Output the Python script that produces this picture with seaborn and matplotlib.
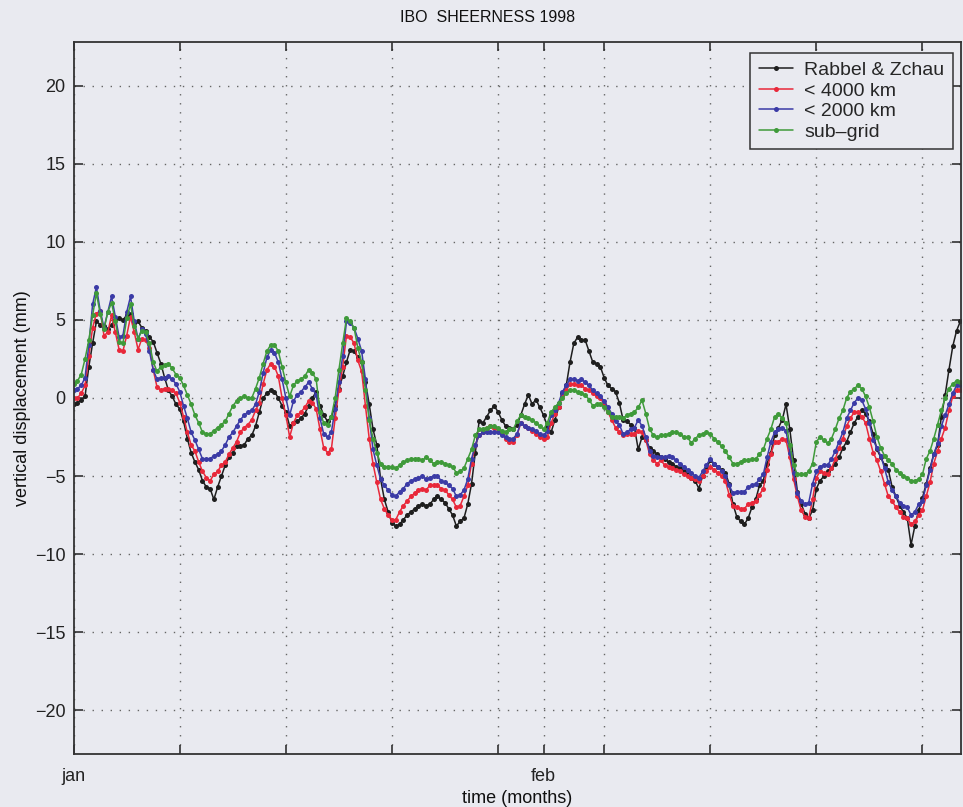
import numpy as np
import pandas as pd
import matplotlib
matplotlib.use("Agg")
import matplotlib.pyplot as plt
import seaborn as sns

# Vertical displacement (mm) at Sheerness, 6-hourly samples from 1 Jan 1998.
# One row per day: 00h, 06h, 12h, 18h.
rabbel_zchau = [
    -0.4, -0.3, -0.15, 0.1,   2.0, 3.5, 4.9, 4.7,   4.6, 4.4, 4.7, 5.0,
    5.1, 5.0, 5.3, 5.4,       4.8, 4.9, 4.5, 4.3,   3.9, 3.6, 2.9, 2.2,
    1.3, 0.5, 0.1, -0.4,      -0.7, -1.5, -2.6, -3.5,  -4.1, -4.6, -5.3, -5.7,
    -5.8, -6.5, -5.7, -5.0,   -4.3, -3.8, -3.5, -3.1,  -3.1, -3.0, -2.6, -2.4,
    -1.8, -0.9, 0.0, 0.3,     0.5, 0.4, 0.0, -0.5,  -0.9, -1.8, -1.6, -1.5,
    -1.3, -1.0, -0.5, 0.0,    0.4, -0.5, -1.1, -1.5,  -1.2, -0.5, 0.6, 1.4,
    2.3, 3.1, 3.0, 2.6,       2.3, 1.0, -0.4, -2.0,  -3.0, -5.2, -6.5, -7.3,
    -8.0, -8.2, -8.1, -7.8,   -7.5, -7.3, -7.1, -6.9,  -6.8, -6.9, -6.8, -6.5,
    -6.3, -6.5, -6.7, -7.1,   -7.5, -8.2, -7.9, -7.7,  -6.8, -5.5, -3.5, -1.5,
    -1.6, -1.2, -0.8, -0.5,   -0.9, -1.4, -1.8, -1.9,  -2.0, -1.7, -1.1, -0.4,
    0.2, -0.4, -0.1, -0.6,    -1.1, -1.8, -2.2, -1.4,  -0.6, 0.3, 0.8, 2.3,
    3.5, 3.9, 3.7, 3.7,       3.0, 2.3, 2.2, 2.0,   1.3, 0.8, 0.6, 0.4,
    -0.3, -1.4, -1.5, -1.7,   -1.9, -3.3, -2.5, -2.7,  -3.2, -3.4, -3.6, -3.8,
    -3.9, -4.1, -4.2, -4.4,   -4.5, -4.7, -4.9, -5.1,  -5.3, -5.8, -5.0, -4.5,
    -4.0, -4.2, -4.4, -4.6,   -4.8, -5.5, -6.8, -7.6,  -7.9, -8.1, -7.7, -7.0,
    -6.5, -5.6, -5.3, -4.2,   -3.5, -2.4, -1.9, -1.4,  -0.4, -2.0, -4.0, -6.0,
    -6.8, -7.4, -7.7, -7.2,   -5.8, -5.3, -5.0, -4.7,  -4.5, -4.2, -3.8, -3.2,
    -2.8, -2.2, -1.6, -1.2,   -0.8, -1.0, -1.5, -2.3,  -3.3, -3.8, -4.3, -4.6,
    -5.7, -6.3, -6.9, -7.3,   -7.7, -9.4, -8.2, -7.2,  -6.4, -5.5, -4.5, -3.6,
    -3.0, -1.2, 0.2, 1.8,     3.3, 4.3, 4.9, 5.1,
]

lt_4000km = [
    0.0, 0.0, 0.3, 0.8,       2.7, 4.5, 5.4, 5.6,   4.0, 4.2, 5.3, 4.2,
    3.1, 3.0, 4.0, 5.2,       4.2, 3.1, 3.8, 3.7,   3.2, 1.8, 0.7, 0.5,
    0.6, 0.6, 0.5, 0.3,       -0.3, -1.2, -2.2, -3.0,  -3.4, -4.1, -4.7, -5.1,
    -5.3, -4.9, -4.7, -4.3,   -4.1, -3.6, -3.2, -2.8,  -2.2, -1.9, -1.7, -1.4,
    -0.8, -0.3, 0.9, 1.8,     2.2, 2.0, 1.4, 0.0,   -1.1, -2.5, -1.6, -1.1,
    -0.9, -0.6, -0.2, -0.3,   -0.7, -2.0, -3.2, -3.5,  -3.3, -1.3, 0.5, 2.0,
    4.0, 3.9, 3.5, 2.4,       1.7, -0.5, -2.6, -4.2,  -5.4, -6.5, -7.1, -7.5,
    -7.8, -7.8, -7.3, -6.9,   -6.6, -6.3, -6.1, -5.9,  -5.8, -5.9, -5.6, -5.6,
    -5.6, -5.8, -5.9, -6.2,   -6.5, -7.0, -6.9, -6.3,  -5.6, -4.2, -3.0, -2.4,
    -2.2, -1.9, -1.8, -1.9,   -2.0, -2.3, -2.6, -2.8,  -2.8, -2.4, -1.6, -1.8,
    -1.9, -2.1, -2.3, -2.5,   -2.6, -2.5, -1.6, -1.0,  -0.6, 0.1, 0.5, 0.9,
    0.9, 0.8, 0.8, 0.6,       0.5, 0.3, 0.1, 0.0,   -0.4, -0.9, -1.4, -1.9,
    -2.2, -2.4, -2.3, -2.3,   -2.3, -2.1, -2.2, -2.7,  -3.6, -4.0, -4.2, -4.0,
    -4.3, -4.4, -4.5, -4.6,   -4.7, -4.9, -5.0, -5.1,  -5.2, -5.3, -5.0, -4.7,
    -4.4, -4.6, -4.8, -5.0,   -5.3, -6.2, -6.9, -7.0,  -7.1, -7.1, -6.8, -6.7,
    -6.6, -6.2, -5.8, -4.6,   -3.6, -2.8, -2.8, -2.6,  -2.7, -3.8, -5.2, -6.3,
    -7.2, -7.6, -7.7, -6.5,   -5.1, -4.7, -4.8, -4.9,  -4.5, -3.9, -3.2, -2.6,
    -1.8, -1.3, -0.9, -0.9,   -1.2, -1.6, -2.6, -3.5,  -4.0, -4.7, -5.5, -6.3,
    -6.6, -7.0, -7.3, -7.6,   -7.7, -8.1, -7.9, -7.5,  -7.2, -6.3, -5.4, -4.2,
    -3.4, -2.6, -1.9, -0.8,   0.1, 0.5, 0.5, 0.3,
]

lt_2000km = [
    0.5, 0.6, 0.8, 1.3,       3.4, 6.0, 7.1, 5.6,   4.5, 5.5, 6.5, 5.2,
    3.9, 4.0, 5.5, 6.5,       4.9, 3.8, 4.4, 4.1,   3.0, 1.8, 1.2, 1.3,
    1.3, 1.4, 1.2, 0.9,       0.4, -0.5, -1.3, -2.2,  -2.7, -3.3, -3.9, -3.9,
    -3.9, -3.7, -3.6, -3.4,   -3.0, -2.5, -2.2, -1.8,  -1.4, -1.1, -0.9, -0.8,
    -0.4, 0.4, 1.6, 2.6,      3.1, 2.9, 2.3, 1.2,   0.0, -1.1, -0.2, 0.2,
    0.4, 0.7, 1.0, 0.6,       0.2, -1.3, -2.3, -2.5,  -2.2, -0.7, 1.0, 2.7,
    4.9, 4.8, 4.5, 3.8,       3.0, 1.2, -1.3, -3.3,  -4.3, -5.2, -5.6, -5.9,
    -6.2, -6.3, -6.0, -5.8,   -5.5, -5.3, -5.2, -5.1,  -5.0, -5.2, -5.1, -5.0,
    -5.0, -5.3, -5.4, -5.6,   -5.8, -6.3, -6.2, -5.9,  -5.2, -3.9, -3.0, -2.4,
    -2.2, -2.2, -2.2, -2.2,   -2.2, -2.4, -2.5, -2.6,  -2.6, -2.3, -1.6, -1.8,
    -1.9, -2.0, -2.1, -2.3,   -2.4, -2.1, -1.1, -0.8,  -0.3, 0.4, 0.8, 1.2,
    1.2, 1.1, 1.2, 1.0,       0.8, 0.5, 0.3, 0.1,   -0.2, -0.6, -1.0, -1.5,
    -1.7, -2.3, -2.2, -2.0,   -1.9, -1.4, -1.8, -2.5,  -3.4, -3.7, -3.8, -3.8,
    -3.8, -3.7, -3.8, -4.0,   -4.2, -4.4, -4.6, -4.8,  -5.0, -5.1, -4.7, -4.3,
    -3.9, -4.2, -4.4, -4.7,   -5.0, -5.6, -6.1, -6.0,  -6.0, -6.0, -5.7, -5.6,
    -5.5, -5.2, -4.9, -3.8,   -2.8, -2.2, -2.0, -1.9,  -2.1, -3.5, -4.8, -6.1,
    -6.6, -6.8, -6.7, -5.5,   -4.7, -4.4, -4.3, -4.3,  -3.9, -3.4, -2.8, -2.2,
    -1.3, -0.8, -0.3, 0.0,    -0.15, -0.7, -1.6, -2.7,  -3.2, -3.7, -4.5, -5.4,
    -5.9, -6.3, -6.7, -6.9,   -7.0, -7.5, -7.3, -6.8,  -6.6, -5.6, -4.6, -3.6,
    -2.9, -1.8, -1.1, -0.4,   0.3, 0.8, 0.8, 0.7,
]

sub_grid = [
    0.9, 1.1, 1.5, 2.5,       3.7, 5.3, 6.7, 5.4,   4.4, 5.5, 6.1, 4.9,
    3.6, 3.5, 5.1, 6.0,       4.6, 3.8, 4.3, 4.2,   3.5, 2.3, 1.7, 2.0,
    2.1, 2.2, 1.9, 1.5,       1.3, 0.8, 0.2, -0.4,  -1.1, -1.6, -2.2, -2.3,
    -2.3, -2.1, -1.9, -1.7,   -1.5, -1.0, -0.5, -0.2,  0.0, 0.1, 0.0, 0.0,
    0.6, 1.3, 2.2, 3.0,       3.4, 3.4, 3.0, 2.0,   1.0, 0.1, 0.8, 1.1,
    1.2, 1.4, 1.8, 1.6,       1.2, -0.9, -1.6, -1.7,  -1.2, 0.0, 1.8, 3.5,
    5.1, 4.9, 4.5, 3.2,       2.3, 0.5, -1.4, -2.6,  -3.5, -4.2, -4.4, -4.4,
    -4.4, -4.5, -4.3, -4.1,   -4.0, -3.9, -3.9, -3.9,  -4.0, -3.8, -4.0, -4.2,
    -4.1, -4.1, -4.2, -4.3,   -4.4, -4.8, -4.7, -4.5,  -3.9, -3.3, -2.4, -2.0,
    -2.0, -1.9, -1.8, -1.8,   -1.9, -2.1, -2.2, -2.0,  -2.0, -1.5, -1.1, -1.2,
    -1.3, -1.4, -1.6, -1.8,   -2.0, -1.6, -0.9, -0.6,  -0.3, 0.0, 0.3, 0.5,
    0.5, 0.4, 0.3, 0.2,       -0.1, -0.5, -0.4, -0.4,  -0.6, -0.9, -1.2, -1.2,
    -1.2, -1.3, -1.1, -1.0,   -0.9, -0.6, -0.15, -1.0,  -2.0, -2.4, -2.5, -2.4,
    -2.4, -2.3, -2.2, -2.2,   -2.3, -2.5, -2.5, -2.9,  -2.6, -2.4, -2.3, -2.2,
    -2.3, -2.6, -2.8, -3.1,   -3.4, -3.8, -4.2, -4.2,  -4.1, -4.0, -4.0, -3.9,
    -3.9, -3.6, -3.3, -2.6,   -2.0, -1.2, -1.0, -1.3,  -1.6, -3.0, -4.3, -4.9,
    -4.9, -4.9, -4.7, -4.2,   -2.8, -2.5, -2.7, -2.9,  -2.6, -2.0, -1.3, -0.8,
    0.0, 0.4, 0.6, 0.8,       0.6, 0.1, -0.6, -1.5,  -2.5, -3.2, -3.7, -4.0,
    -4.2, -4.6, -4.8, -5.0,   -5.1, -5.3, -5.3, -5.2,  -4.9, -3.9, -3.4, -2.6,
    -1.7, -0.8, 0.0, 0.6,     0.9, 1.1, 1.0, 0.5,
]

series_names = ["Rabbel & Zchau", "< 4000 km", "< 2000 km", "sub\u2013grid"]
series_values = [rabbel_zchau, lt_4000km, lt_2000km, sub_grid]
series_colors = ["#1e1e1e", "#e8283a", "#3b3ba6", "#3f9a3a"]

week_ticks = [0, 7, 14, 21, 28, 31, 35, 42, 49, 56]
week_labels = ["jan", "", "", "", "", "feb", "", "", "", ""]
y_ticks = [-20, -15, -10, -5, 0, 5, 10, 15, 20]

days = np.arange(len(rabbel_zchau)) * 0.25
frames = [pd.DataFrame({"day": days, "disp": vals, "series": name})
          for name, vals in zip(series_names, series_values)]
df = pd.concat(frames, ignore_index=True)

sns.set_theme(style="ticks")
plt.rcParams["font.family"] = ["Liberation Sans", "DejaVu Sans"]
plt.rcParams["axes.unicode_minus"] = True

bg = "#e9eaf0"
fig = plt.figure(figsize=(9.63, 8.07), dpi=100, facecolor=bg)
ax = fig.add_axes([0.0765, 0.0657, 0.9215, 0.8823])
ax.set_facecolor(bg)

for name, color in zip(series_names, series_colors):
    sns.lineplot(data=df[df["series"] == name], x="day", y="disp",
                 color=color, linewidth=1.1, marker="o", markersize=3.6,
                 markeredgewidth=0, markerfacecolor=color,
                 label=name, ax=ax, estimator=None, sort=False)

ax.set_xlim(0, 58.55)
ax.set_ylim(-22.8, 22.8)
ax.set_xticks(week_ticks)
ax.set_xticklabels(week_labels)
ax.set_yticks(y_ticks)
ax.set_yticklabels([f"{t}".replace("-", "\u2212") for t in y_ticks])

ax.grid(True, linestyle=(0, (1, 5.5)), linewidth=1.0, color="#666666")
ax.tick_params(direction="in", length=6.5, width=1.1, colors="#222222",
               top=True, right=True, labelsize=13, pad=6)
ax.tick_params(axis="x", pad=10)
for sp in ax.spines.values():
    sp.set_color("#333333")
    sp.set_linewidth(1.3)

ax.set_xlabel("time (months)", fontsize=13, color="#111111", labelpad=4)
ax.set_ylabel("vertical displacement (mm)", fontsize=13, color="#111111",
              labelpad=3)
fig.text(488 / 963, 1 - 17 / 807, "IBO  SHEERNESS 1998", ha="center",
         va="center", fontsize=11.5, color="#111111")

leg = ax.legend(loc="upper right", bbox_to_anchor=(0.991, 0.985),
                fontsize=14, frameon=True, fancybox=False,
                handlelength=1.75, handletextpad=0.6, borderpad=0.45,
                labelspacing=0.15, borderaxespad=0.0)
leg.get_frame().set_edgecolor("#333333")
leg.get_frame().set_facecolor(bg)
leg.get_frame().set_linewidth(1.1)
leg.get_frame().set_alpha(1.0)

fig.savefig("out.png", dpi=100, facecolor=bg)
